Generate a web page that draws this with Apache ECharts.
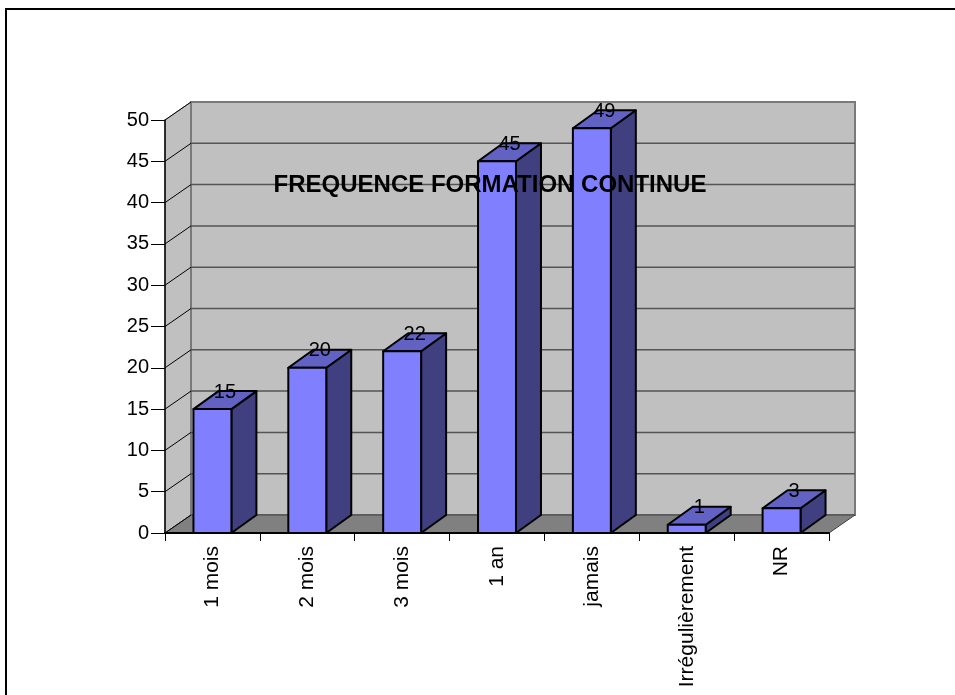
<!DOCTYPE html>
<html>
<head>
<meta charset="utf-8">
<script src="https://cdn.jsdelivr.net/npm/echarts@6/dist/echarts.min.js"></script>
<style>
  html, body { margin: 0; padding: 0; background: #fff; }
  #chart { width: 955px; height: 695px; }
</style>
</head>
<body>
<div id="chart"></div>
<script>
// Survey answers: how often continuing education is followed
const categories = ['1 mois', '2 mois', '3 mois', '1 an', 'jamais', 'Irrégulièrement', 'NR'];
const counts = [15, 20, 22, 45, 49, 1, 3];
const yTicks = [0, 5, 10, 15, 20, 25, 30, 35, 40, 45, 50];
const chartTitle = 'FREQUENCE FORMATION CONTINUE';

// Depth offsets used to fake the 3D perspective
const WALL_DX = 26, WALL_DY = -18;
const BAR_DX = 25, BAR_DY = -18;
const FONT = '"Liberation Sans", Arial, sans-serif';

const yMin = yTicks[0];
const yMax = yTicks[yTicks.length - 1];

// Back wall, side wall, floor and the gridlines drawn on them
function renderWalls(params, api) {
  const cs = params.coordSys;
  const x0 = cs.x, x1 = cs.x + cs.width;
  const v = api.value(1);
  const y = api.coord([0, v])[1];
  const children = [];
  if (params.dataIndex === 0) {
    const yTop = api.coord([0, yMax])[1];
    const yBase = api.coord([0, yMin])[1];
    children.push({
      type: 'polygon',
      shape: { points: [[x0, yBase], [x0 + WALL_DX, yBase + WALL_DY], [x0 + WALL_DX, yTop + WALL_DY], [x0, yTop]] },
      style: { fill: '#c0c0c0', stroke: '#808080', lineWidth: 1 }
    });
    children.push({
      type: 'rect',
      shape: { x: x0 + WALL_DX, y: yTop + WALL_DY, width: x1 - x0, height: yBase - yTop },
      style: { fill: '#c0c0c0', stroke: '#7a7a7a', lineWidth: 2 }
    });
    children.push({
      type: 'polygon',
      shape: { points: [[x0, yBase], [x1, yBase], [x1 + WALL_DX, yBase + WALL_DY], [x0 + WALL_DX, yBase + WALL_DY]] },
      style: { fill: '#808080', stroke: '#404040', lineWidth: 1 }
    });
  }
  children.push({
    type: 'line',
    shape: { x1: x0, y1: y, x2: x0 + WALL_DX, y2: y + WALL_DY },
    style: { stroke: '#000', lineWidth: 1 }
  });
  if (v > yMin && v < yMax) {
    children.push({
      type: 'line',
      shape: { x1: x0 + WALL_DX, y1: y + WALL_DY, x2: x1 + WALL_DX, y2: y + WALL_DY },
      style: { stroke: '#555', lineWidth: 1.5 }
    });
  }
  return { type: 'group', children: children };
}

// One box per category: side face, top face, front face and its value
function renderBar(params, api) {
  const i = api.value(0), v = api.value(1);
  const top = api.coord([i, v]);
  const bot = api.coord([i, 0]);
  const w = api.size([1, 0])[0] * 0.4;
  const xl = top[0] - w / 2, xr = top[0] + w / 2;
  const yt = top[1], yb = bot[1];
  const edge = { stroke: '#000', lineWidth: 2, lineJoin: 'round' };
  return {
    type: 'group',
    children: [
      {
        type: 'polygon',
        shape: { points: [[xr, yt], [xr + BAR_DX, yt + BAR_DY], [xr + BAR_DX, yb + BAR_DY], [xr, yb]] },
        style: Object.assign({ fill: '#404080' }, edge)
      },
      {
        type: 'polygon',
        shape: { points: [[xl, yt], [xr, yt], [xr + BAR_DX, yt + BAR_DY], [xl + BAR_DX, yt + BAR_DY]] },
        style: Object.assign({ fill: '#6262c4' }, edge)
      },
      {
        type: 'rect',
        shape: { x: xl, y: yt, width: w, height: yb - yt },
        style: Object.assign({ fill: '#8080ff' }, edge)
      },
      {
        type: 'text',
        x: top[0] + BAR_DX / 2,
        y: yt + BAR_DY / 2 + 2,
        style: {
          text: String(v),
          fontSize: 20,
          fontFamily: FONT,
          fill: '#000',
          align: 'center',
          verticalAlign: 'bottom'
        }
      }
    ]
  };
}

const chart = echarts.init(document.getElementById('chart'), null, { renderer: 'canvas' });
chart.setOption({
  animation: false,
  backgroundColor: '#fff',
  title: {
    text: chartTitle,
    left: 485,
    top: 168,
    textAlign: 'center',
    textStyle: { fontFamily: FONT, fontSize: 24, fontWeight: 'bold', color: '#000' }
  },
  grid: { left: 165, right: 126, top: 120, bottom: 162, containLabel: false, outerBoundsMode: 'none' },
  xAxis: {
    type: 'category',
    data: categories,
    z: 10,
    axisLine: { lineStyle: { color: '#000', width: 2 } },
    axisTick: { show: true, interval: 0, length: 8, lineStyle: { color: '#000', width: 1 } },
    axisLabel: { interval: 0, rotate: 90, margin: 13, fontSize: 21, fontFamily: FONT, color: '#000' },
    splitLine: { show: false }
  },
  yAxis: {
    type: 'value',
    min: yMin,
    max: yMax,
    interval: 5,
    z: 10,
    axisLine: { show: true, lineStyle: { color: '#000', width: 1.5 } },
    axisTick: { show: true, length: 14, lineStyle: { color: '#000', width: 1 } },
    axisLabel: { margin: 16, fontSize: 20, fontFamily: FONT, color: '#000' },
    splitLine: { show: false }
  },
  series: [
    {
      type: 'custom',
      name: 'walls',
      clip: false,
      silent: true,
      renderItem: renderWalls,
      encode: { x: 0, y: 1 },
      data: yTicks.map(function (t) { return [0, t]; })
    },
    {
      type: 'custom',
      name: 'Fréquence',
      clip: false,
      renderItem: renderBar,
      encode: { x: 0, y: 1 },
      data: counts.map(function (c, i) { return [i, c]; })
    }
  ],
  graphic: [
    {
      type: 'rect',
      z: 100,
      silent: true,
      shape: { x: 6, y: 9, width: 970, height: 720 },
      style: { fill: 'none', stroke: '#000', lineWidth: 2 }
    }
  ]
});
</script>
</body>
</html>
